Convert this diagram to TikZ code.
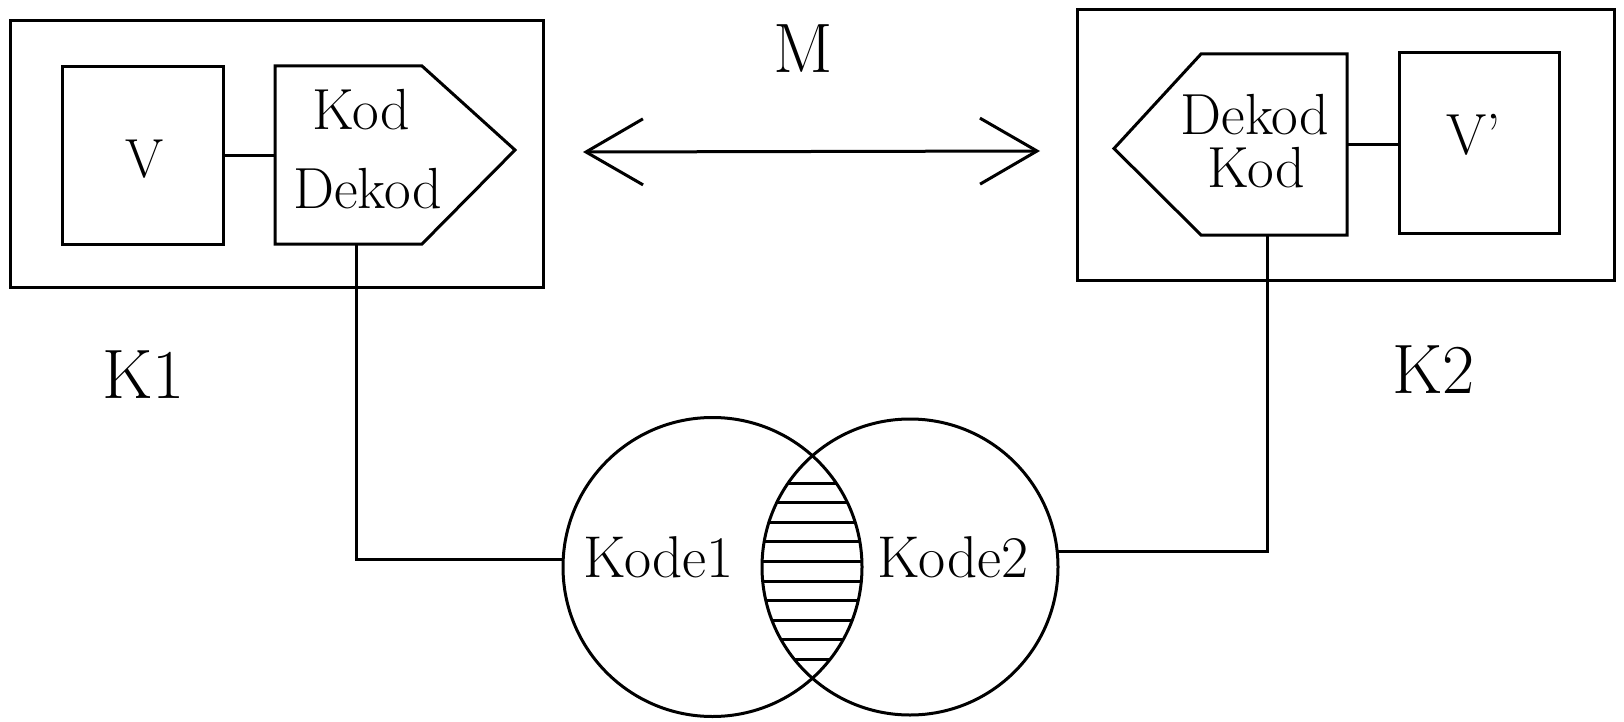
\documentclass[tikz,border=0pt]{standalone}
\usetikzlibrary{arrows.meta,calc}
\begin{document}
\begin{tikzpicture}[x=1pt,y=-1pt,line width=3pt,
  blk/.style={draw,rectangle,inner sep=0pt,outer sep=0pt},
  body/.style={rectangle,inner sep=0pt,outer sep=0pt},
  ring/.style={draw,circle,inner sep=0pt,outer sep=0pt},
  lbl/.style={anchor=base,inner sep=0pt,outer sep=0pt},
  fbox/.style={font=\fontsize{58}{60}\selectfont},
  fbig/.style={font=\fontsize{70}{72}\selectfont},
  fcode/.style={font=\fontsize{59}{60}\selectfont},
  barb/.style={{Straight Barb[length=57pt,width=66pt]}-{Straight Barb[length=57pt,width=66pt]}}]
\useasboundingbox (0,0) rectangle (1624,722);
% K1
\node[blk,minimum width=533pt,minimum height=266pt] (K1box) at (276.5,154) {};
\node[blk,minimum width=161pt,minimum height=177pt] (V) at (142.5,155.5) {};
\node[body,minimum width=147pt,minimum height=178pt] (P1) at (348.5,155) {};
\draw (P1.south west) -- (P1.north west) -- (P1.north east) -- ($(P1.east)+(93,-5)$) -- (P1.south east) -- cycle;
% K2
\node[blk,minimum width=537pt,minimum height=270pt] (K2box) at (1345.5,145) {};
\node[blk,minimum width=160pt,minimum height=180pt] (Vp) at (1479,143) {};
\node[body,minimum width=146pt,minimum height=181pt] (P2) at (1274,144.5) {};
\draw (P2.south east) -- (P2.north east) -- (P2.north west) -- ($(P2.west)+(-87,4)$) -- (P2.south west) -- cycle;
% circles
\node[ring,minimum size=299pt] (C1) at (712.5,567) {};
\node[ring,minimum size=296pt] (C2) at (910,567) {};
\begin{scope}
  \clip (C1.center) circle[radius=149.5pt];
  \clip (C2.center) circle[radius=148pt];
  \foreach \i in {0,...,9} \draw (740,{483+19.6*\i}) -- (890,{483+19.6*\i});
\end{scope}
% connectors
\draw (V.east) -- (V.east -| P1.west);
\draw (P2.east) -- (P2.east -| Vp.west);
\draw ([xshift=7.5pt]P1.south) |- (C1.177);
\draw ([xshift=-7pt]P2.south) |- (C2.6);
% M arrow
\coordinate (ML) at (583,152);
\coordinate (MR) at (1040,151);
\draw[barb] (ML) -- (MR);
% texts
\node[lbl,fbox] (tKod1) at (361.5,130) {Kod};
\node[lbl,fbox] (tDekod1) at (367.5,208) {Dekod};
\node[lbl,font=\fontsize{55}{56}\selectfont] (tV) at (145,178) {V};
\node[lbl,fbox] (tDekod2) at (1255,135) {Dekod};
\node[lbl,fbox] (tKod2) at (1256.5,188) {Kod};
\node[lbl,fbox] (tVp) at (1474,155) {V'};
\node[lbl,fbig] (tM) at (803.5,73) {M};
\node[lbl,fbig] (tK1) at (143.5,398) {K1};
\node[lbl,fbig] (tK2) at (1433.5,393) {K2};
\node[lbl,fcode] (tKode1) at (658.5,577) {Kode1};
\node[lbl,fcode] (tKode2) at (953,577) {Kode2};
\end{tikzpicture}
\end{document}
